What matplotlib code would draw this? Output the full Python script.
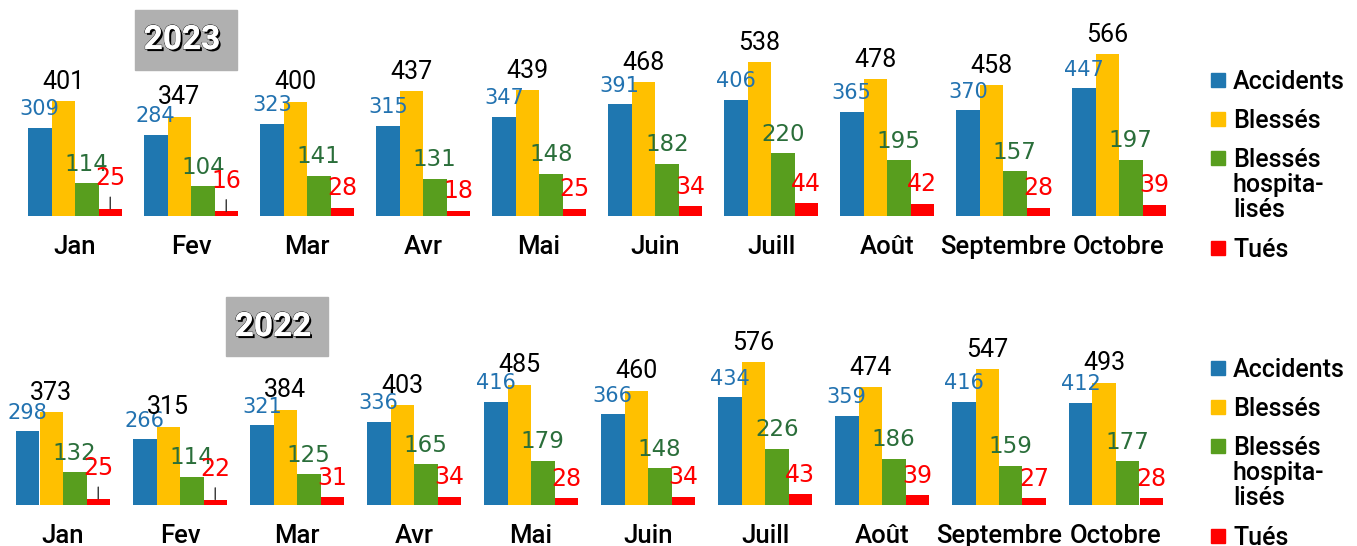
import numpy as np
import matplotlib
matplotlib.use("Agg")
import matplotlib.pyplot as plt
import matplotlib.patheffects as pe
from matplotlib.patches import Rectangle

# données
mois = ['Jan', 'Fev', 'Mar', 'Avr', 'Mai', 'Juin', 'Juill', 'Août', 'Septembre', 'Octobre']

accidents_2023 = [309, 284, 323, 315, 347, 391, 406, 365, 370, 447]
blesses_2023 = [401, 347, 400, 437, 439, 468, 538, 478, 458, 566]
hosp_2023 = [114, 104, 141, 131, 148, 182, 220, 195, 157, 197]
tues_2023 = [25, 16, 28, 18, 25, 34, 44, 42, 28, 39]

accidents_2022 = [298, 266, 321, 336, 416, 366, 434, 359, 416, 412]
blesses_2022 = [373, 315, 384, 403, 485, 460, 576, 474, 547, 493]
hosp_2022 = [132, 114, 125, 165, 179, 148, 226, 186, 159, 177]
tues_2022 = [25, 22, 31, 34, 28, 34, 43, 39, 27, 28]

series_names = ['Accidents', 'Blessés', 'Blessés\nhospita-\nlisés', 'Tués']
bar_colors = ['#1F77B0', '#FFC000', '#589E1E', '#FF0000']
label_colors = ['#2272B0', '#000000', '#2A6E3A', '#FF0000']
leader_months = ['Jan', 'Fev']

W, H = 1357, 546


def fx(x):
    return x / W


def fy(y):
    return 1 - y / H


fig = plt.figure(figsize=(W / 100, H / 100), dpi=100)


def draw_panel(base_px, top_px, px_per_unit, first_left, period, data):
    ax = fig.add_axes([0, fy(base_px), 1, (base_px - top_px) / H])
    group_w = 94 / period
    bw = group_w / 4
    c0 = (first_left + 47) / period
    ax.set_xlim(-c0, W / period - c0)
    ax.set_ylim(0, (base_px - top_px) / px_per_unit)
    idx = np.arange(len(mois))
    for k, vals in enumerate(data):
        xs = idx - group_w / 2 + bw * (k + 0.5)
        ax.bar(xs, vals, width=bw, color=bar_colors[k], linewidth=0)
        for m, x, v in zip(mois, xs, vals):
            if k == 0:
                kw = dict(family='DejaVu Sans', fontsize=15)
            elif k == 1:
                kw = dict(family='Roboto', fontsize=18)
            elif k == 2:
                kw = dict(family='DejaVu Sans', fontsize=16.5)
            else:
                kw = dict(family='DejaVu Sans', fontsize=17)
            if k == 3 and m in leader_months:
                ax.annotate(str(v), xy=(x, v), xytext=(0, 17), textcoords='offset points',
                            ha='center', va='baseline', color=label_colors[k],
                            arrowprops=dict(arrowstyle='-', color='#333333', lw=1,
                                            shrinkA=3, shrinkB=0),
                            annotation_clip=False, **kw)
            else:
                ax.annotate(str(v), xy=(x, v), xytext=(0, 9), textcoords='offset points',
                            ha='center', va='baseline', color=label_colors[k],
                            annotation_clip=False, **kw)
    ax.set_xticks(idx)
    ax.set_xticklabels(mois, family='Roboto', fontsize=18.5, fontweight='medium')
    ax.tick_params(axis='x', length=0, pad=14)
    ax.set_yticks([])
    for s in ax.spines.values():
        s.set_visible(False)
    ax.patch.set_visible(False)
    return ax


draw_panel(216, 0, 0.286, 28, 116, [accidents_2023, blesses_2023, hosp_2023, tues_2023])
draw_panel(505, 290, 0.248, 16, 117, [accidents_2022, blesses_2022, hosp_2022, tues_2022])


def legend(y_first):
    ys = [y_first, y_first + 39, y_first + 78, y_first + 168]
    for name, col, y in zip(series_names, bar_colors, ys):
        fig.patches.append(Rectangle((fx(1211), fy(y + 7)), 14 / W, 14 / H,
                                     transform=fig.transFigure, color=col))
        fig.text(fx(1233), fy(y - 10), name, family='Roboto', fontsize=18,
                 fontweight='medium', va='top', ha='left', linespacing=1.05)


legend(80)
legend(368)


def year_box(x0, y0, x1, y1, tx, ty, label):
    fig.patches.append(Rectangle((fx(x0), fy(y1)), (x1 - x0) / W, (y1 - y0) / H,
                                 transform=fig.transFigure, color='#B0B0B0'))
    fig.text(fx(tx), fy(ty), label, family='Roboto', fontsize=24, fontweight='bold',
             color='white', ha='center', va='center',
             path_effects=[pe.SimplePatchShadow(offset=(1.5, -1.5), shadow_rgbFace='black', alpha=1),
                           pe.withStroke(linewidth=0.8, foreground='#222222'), pe.Normal()])


year_box(135, 10, 237, 70, 182, 40, '2023')
year_box(226, 297, 328, 356, 273, 327, '2022')

fig.savefig('out.png', dpi=100)
